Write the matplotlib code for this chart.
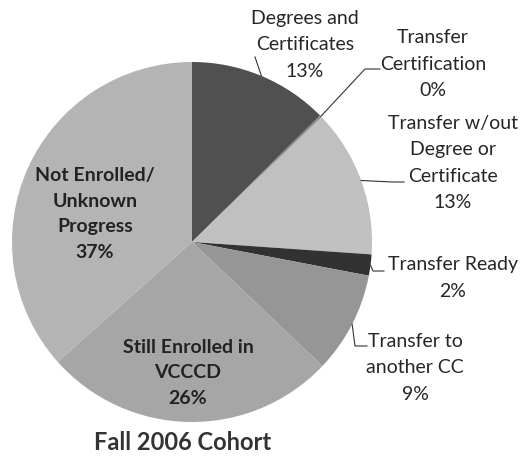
import numpy as np
import matplotlib
matplotlib.use("Agg")
import matplotlib.pyplot as plt

# ---------- data ----------
categories = [
    "Degrees and\nCertificates",
    "Transfer\nCertification",
    "Transfer w/out\nDegree or\nCertificate",
    "Transfer Ready",
    "Transfer to\nanother CC",
    "Still Enrolled in\nVCCCD",
    "Not Enrolled/\nUnknown\nProgress",
]
shares = [12.6, 0.2, 13.3, 1.9, 9.1, 26.3, 36.6]
colors = ["#505050", "#8a8a8a", "#c0c0c0", "#323232", "#969696", "#a6a6a6", "#b4b4b4"]

title = "Fall 2006 Cohort"

W, H = 522, 460
CX, CY, R = 192, 243, 180   # pie centre / radius in pixels


def px(x, y):
    """pixel (from top-left) -> data coords of the pie axes"""
    return (x - CX) / R, (CY - y) / R


plt.rcParams["font.family"] = ["Lato", "DejaVu Sans"]

fig = plt.figure(figsize=(W / 100, H / 100), dpi=100)
fig.patch.set_facecolor("white")
ax = fig.add_axes([(CX - R) / W, (H - CY - R) / H, 2 * R / W, 2 * R / H])

wedges, _ = ax.pie(shares, colors=colors, startangle=90, counterclock=False,
                   radius=1.0, wedgeprops=dict(linewidth=0))
ax.set_xlim(-1, 1)
ax.set_ylim(-1, 1)
ax.set_aspect("equal")
ax.axis("off")

# outside labels: (text centre, leader path after the edge point)
outside = {
    0: ((305, 45), [(255, 58)]),
    1: ((433, 64), [(365, 70), (380, 70)]),
    2: ((453, 163), [(392, 183), (404, 183)]),
    3: ((453, 278), [(373, 272), (384, 272)]),
    4: ((415, 368), [(355, 347), (367, 347)]),
}
inside = {5: (188, 373), 6: (95, 214)}

for i, w in enumerate(wedges):
    txt = f"{categories[i]}\n{round(shares[i]):d}%"
    if i in outside:
        (tx, ty), path = outside[i]
        ang = np.deg2rad((w.theta1 + w.theta2) / 2)
        pts = [(np.cos(ang), np.sin(ang))] + [px(*p) for p in path]
        xs, ys = zip(*pts)
        ax.plot(xs, ys, color="#333333", lw=0.8, clip_on=False)
        x, y = px(tx, ty)
        ax.text(x, y, txt, ha="center", va="center", fontsize=14,
                color="#262626", linespacing=1.65, clip_on=False)
    else:
        x, y = px(*inside[i])
        ax.text(x, y, txt, ha="center", va="center", fontsize=14,
                fontweight="bold", color="#222222", linespacing=1.6)

fig.text(183 / W, 1 - 443 / H, title, ha="center", va="center",
         fontsize=17, fontweight="bold", color="#333333")

fig.savefig("out.png", dpi=100)
